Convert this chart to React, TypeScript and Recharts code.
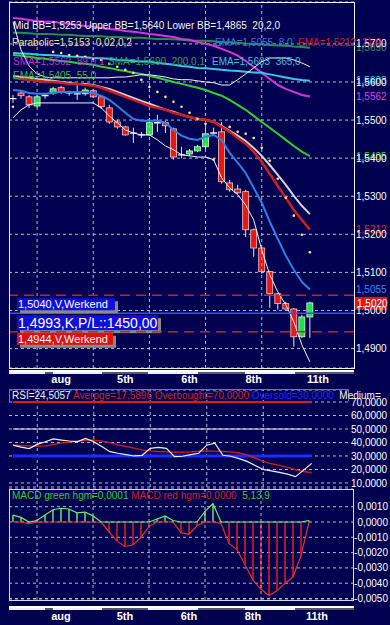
import React from 'react';
import { ComposedChart, Bar, Line, XAxis, YAxis, CartesianGrid, ReferenceLine } from 'recharts';

const opens = [1.5556,1.5571,1.5561,1.5537,1.5564,1.5571,1.5585,1.5571,1.5569,1.5569,1.5577,1.5561,1.5532,1.5495,1.5482,1.5466,1.5461,1.5461,1.5493,1.5493,1.5477,1.5409,1.5411,1.5419,1.5430,1.5466,1.5469,1.5335,1.5319,1.5312,1.5212,1.5164,1.5102,1.5044,1.5018,1.5004,1.4931,1.4983];
const highs = [1.5566,1.5577,1.5566,1.5566,1.5569,1.5587,1.5590,1.5577,1.5592,1.5585,1.5582,1.5564,1.5540,1.5501,1.5485,1.5480,1.5469,1.5506,1.5514,1.5498,1.5480,1.5430,1.5424,1.5435,1.5480,1.5480,1.5495,1.5343,1.5330,1.5317,1.5215,1.5166,1.5104,1.5046,1.5023,1.5007,1.4989,1.5023];
const lows = [1.5545,1.5556,1.5532,1.5532,1.5556,1.5566,1.5569,1.5564,1.5553,1.5564,1.5558,1.5529,1.5490,1.5477,1.5459,1.5440,1.5453,1.5459,1.5469,1.5466,1.5396,1.5400,1.5406,1.5416,1.5424,1.5461,1.5333,1.5312,1.5306,1.5193,1.5141,1.5097,1.5007,1.5002,1.5002,1.4905,1.4928,1.4928];
const closes = [1.5557,1.5564,1.5540,1.5561,1.5565,1.5582,1.5574,1.5572,1.5569,1.5579,1.5561,1.5535,1.5495,1.5482,1.5461,1.5465,1.5461,1.5493,1.5493,1.5485,1.5403,1.5408,1.5419,1.5430,1.5464,1.5466,1.5338,1.5317,1.5309,1.5212,1.5164,1.5102,1.5044,1.5018,1.5004,1.4931,1.4983,1.5020];

const ema8 = [1.5579,1.5577,1.5571,1.5569,1.5569,1.5571,1.5574,1.5574,1.5574,1.5574,1.5571,1.5564,1.5553,1.5537,1.5519,1.5503,1.5498,1.5498,1.5498,1.5493,1.5474,1.5459,1.5451,1.5448,1.5456,1.5461,1.5448,1.5414,1.5388,1.5361,1.5322,1.5283,1.5233,1.5188,1.5144,1.5107,1.5075,1.5055];
const ema21 = [1.5611,1.5608,1.5606,1.5603,1.5600,1.5600,1.5598,1.5595,1.5595,1.5592,1.5590,1.5585,1.5577,1.5569,1.5561,1.5553,1.5545,1.5537,1.5532,1.5527,1.5519,1.5514,1.5508,1.5503,1.5501,1.5495,1.5482,1.5469,1.5453,1.5438,1.5417,1.5390,1.5359,1.5327,1.5296,1.5264,1.5238,1.5212];
const midBB = [1.5616,1.5613,1.5611,1.5608,1.5606,1.5603,1.5600,1.5598,1.5595,1.5595,1.5592,1.5587,1.5582,1.5574,1.5566,1.5558,1.5550,1.5543,1.5535,1.5527,1.5522,1.5514,1.5508,1.5503,1.5501,1.5495,1.5485,1.5472,1.5459,1.5445,1.5427,1.5406,1.5382,1.5356,1.5330,1.5301,1.5275,1.5253];
const upperBB = [1.5758,1.5684,1.5642,1.5621,1.5613,1.5611,1.5611,1.5611,1.5611,1.5611,1.5611,1.5611,1.5611,1.5613,1.5613,1.5616,1.5619,1.5619,1.5616,1.5613,1.5608,1.5606,1.5606,1.5603,1.5600,1.5598,1.5592,1.5592,1.5606,1.5621,1.5637,1.5653,1.5663,1.5663,1.5663,1.5658,1.5650,1.5640];
const lowerBB = [1.5506,1.5527,1.5540,1.5545,1.5545,1.5545,1.5545,1.5545,1.5545,1.5545,1.5545,1.5532,1.5511,1.5493,1.5474,1.5466,1.5461,1.5461,1.5448,1.5432,1.5422,1.5409,1.5406,1.5403,1.5403,1.5396,1.5348,1.5322,1.5304,1.5277,1.5238,1.5159,1.5094,1.5049,1.5015,1.4970,1.4910,1.4865];
const ema55 = [1.5671,1.5669,1.5666,1.5663,1.5661,1.5658,1.5655,1.5653,1.5650,1.5648,1.5645,1.5640,1.5637,1.5632,1.5629,1.5624,1.5621,1.5616,1.5611,1.5606,1.5600,1.5595,1.5590,1.5585,1.5579,1.5571,1.5564,1.5553,1.5540,1.5527,1.5511,1.5495,1.5480,1.5464,1.5448,1.5432,1.5417,1.5405];
const sma89 = [1.5768,1.5766,1.5763,1.5760,1.5758,1.5758,1.5755,1.5753,1.5750,1.5747,1.5745,1.5742,1.5739,1.5737,1.5734,1.5732,1.5729,1.5726,1.5724,1.5721,1.5718,1.5713,1.5711,1.5705,1.5700,1.5695,1.5687,1.5679,1.5669,1.5655,1.5640,1.5624,1.5608,1.5592,1.5582,1.5574,1.5566,1.5562];
const ema365 = [1.5676,1.5675,1.5674,1.5672,1.5671,1.5670,1.5669,1.5667,1.5666,1.5665,1.5663,1.5662,1.5661,1.5658,1.5657,1.5655,1.5654,1.5653,1.5650,1.5648,1.5645,1.5642,1.5640,1.5637,1.5636,1.5634,1.5632,1.5630,1.5629,1.5627,1.5625,1.5624,1.5620,1.5616,1.5612,1.5608,1.5605,1.5603];
const sma200 = [1.5729,1.5729,1.5728,1.5726,1.5726,1.5725,1.5724,1.5724,1.5722,1.5721,1.5721,1.5720,1.5718,1.5718,1.5717,1.5716,1.5716,1.5714,1.5713,1.5713,1.5712,1.5711,1.5709,1.5708,1.5708,1.5707,1.5705,1.5704,1.5703,1.5701,1.5700,1.5699,1.5697,1.5696,1.5695,1.5693,1.5692,1.5690];
const sar = [1.5535,null,null,null,null,1.5679,1.5676,1.5671,1.5669,1.5666,1.5661,1.5658,1.5648,1.5640,1.5632,1.5624,1.5606,1.5587,1.5574,1.5561,1.5548,1.5535,1.5519,1.5503,1.5490,1.5396,null,1.5482,1.5469,1.5464,1.5453,1.5427,1.5393,1.5346,1.5296,1.5249,1.5199,1.5153];

const rsi = [38,36.5,35.5,38.6,40.5,42.6,41.8,41.1,40.6,43,40.6,37,33.2,32,31,30,30.5,35.7,36.4,35.7,29.5,29.8,31,32,38,39.4,30.5,29.8,28,26,23,20,19,17.9,16.5,14.7,19.5,24.5057];
const rsiAvg = [38,37.8,37.5,37.2,37.5,38.5,39.5,40.3,41,41.7,41.8,41,39.8,38.2,37,35.8,34.5,33.8,33.3,33,32.8,32.8,33,33.5,33.7,33.6,33.3,33,32.2,30.7,28.5,26,24.2,23,21.5,19.8,18.5,17.5896];
const macdHist = [0.00045,0.0003,-0.0001,0.0001,0.00045,0.0008,0.0009,0.00085,0.0006,0.00065,0.0004,0.0,-0.00065,-0.00125,-0.0016,-0.0015,-0.001,-0.0003,0.0002,0.0004,0.0001,-0.0007,-0.0008,-0.00025,0.0007,0.0012,-0.0001,-0.0014,-0.0018,-0.0028,-0.0038,-0.0044,-0.0048,-0.0045,-0.004,-0.0036,-0.0022,0.0001];

const dateTicks = [6, 14, 22, 30, 38];
const dateLabels = ['aug', '5th', '6th', '8th', '11th'];
const gridCats = [3, 10, 17, 24, 31];
const priceTicks = [1.49, 1.50, 1.51, 1.52, 1.53, 1.54, 1.55, 1.56, 1.57];
const rsiTicks = [10, 20, 30, 40, 50, 60, 70];
const macdTicks = [0.001, 0, -0.001, -0.002, -0.003, -0.004, -0.005];
const pendingOrders = [
  { price: 1.5040, text: '1,5040,V,Werkend' },
  { price: 1.4944, text: '1,4944,V,Werkend' },
];
const position = { price: 1.4993, text: '1,4993,K,P/L::1450,00' };
const lastPrice = 1.5020;
const valueTags = [
  { v: 1.5690, label: '1,5690', color: '#2e9a4e' },
  { v: 1.5603, label: '1,5603', color: '#3fd0f0' },
  { v: 1.5562, label: '1,5562', color: '#e040e8' },
  { v: 1.5405, label: '1,5405', color: '#3ed23e' },
  { v: 1.5212, label: '1,5212', color: '#e02828' },
  { v: 1.5055, label: '1,5055', color: '#3a8cf0' },
];

const N = closes.length;
const fmt4 = (v: number) => v.toFixed(4).replace('.', ',');
const dateFmt = (v: any) => { const i = dateTicks.indexOf(Number(v)); return i >= 0 ? dateLabels[i] : ''; };

const mainData = Array.from({ length: 43 }, (_, k) => k < N ? ({
  k, open: opens[k], high: highs[k], low: lows[k], close: closes[k],
  ema8: ema8[k], ema21: ema21[k], midBB: midBB[k], upperBB: upperBB[k], lowerBB: lowerBB[k],
  ema55: ema55[k], sma89: sma89[k], ema365: ema365[k], sma200: sma200[k], sar: sar[k],
}) : ({ k }));
const rsiData = Array.from({ length: 42 }, (_, k) => k < N ? ({ k, rsi: rsi[k], avg: rsiAvg[k] }) : ({ k }));
const macdData = Array.from({ length: 43 }, (_, k) => k < N ? ({
  k, h: macdHist[k], g: Math.max(macdHist[k], 0), r: Math.min(macdHist[k], 0),
}) : ({ k }));

const BG = '#000050';
const GRID = '#b8b8d0';
const FONT = '"Liberation Sans", Arial, sans-serif';

const Candle = (props: any) => {
  const { x, y, width, height, payload } = props;
  if (!payload || payload.open == null) return null;
  const top = Math.min(y, y + height);
  const hh = Math.abs(height);
  const ratio = hh / (payload.high - payload.low);
  const py = (p: number) => top + (payload.high - p) * ratio;
  const cx = x + width / 2;
  const bt = py(Math.max(payload.open, payload.close));
  const bb = py(Math.min(payload.open, payload.close));
  const up = payload.close > payload.open;
  const doji = bb - bt < 1.3;
  return (
    <g>
      <line x1={cx} x2={cx} y1={top} y2={top + hh} stroke="#e6e6e6" strokeWidth={1} />
      {doji ? (
        <line x1={cx - 3.5} x2={cx + 3.5} y1={(bt + bb) / 2} y2={(bt + bb) / 2} stroke="#f2f2f2" strokeWidth={1.3} />
      ) : (
        <rect x={cx - 3} y={bt} width={6} height={bb - bt} fill={up ? '#1ee04a' : '#ee1414'} stroke={up ? '#d8ffd8' : '#f6caca'} strokeWidth={0.8} />
      )}
    </g>
  );
};

const HistLine = (props: any) => {
  const { x, y, width, height, payload } = props;
  if (!payload || payload.h == null || height == null || Math.abs(height) < 0.5) return null;
  const color = payload.h >= 0 ? '#5ce65c' : '#e01e1e';
  const cx = x + width / 2;
  const y1 = Math.min(y, y + height);
  const y2 = Math.max(y, y + height);
  return <line x1={cx} x2={cx} y1={y1} y2={y2} stroke={color} strokeWidth={1.5} />;
};

const RightTag = (color: string, text: string) => (props: any) => {
  const vb = props.viewBox || {};
  return (
    <text x={356} y={vb.y} dy="0.35em" fill={color} fontSize={10} fontFamily={FONT}>{text}</text>
  );
};

const LastTag = (props: any) => {
  const vb = props.viewBox || {};
  return (
    <g>
      <rect x={355} y={vb.y - 6} width={32} height={13} fill="#d81818" />
      <text x={357} y={vb.y + 1} dy="0.35em" fill="#ffffff" fontSize={10} fontFamily={FONT}>{fmt4(lastPrice)}</text>
    </g>
  );
};

const OrderBox = (text: string, fill: string, w: number, h: number, fs: number, dyTop: number) => (props: any) => {
  const vb = props.viewBox || {};
  const y0 = vb.y + dyTop;
  return (
    <g>
      <rect x={20} y={y0 + 3} width={w} height={h} fill="#8a8a8a" />
      <rect x={17} y={y0} width={w} height={h} fill={fill} />
      <text x={18} y={y0 + h / 2} dy="0.36em" fill="#ffffff" fontSize={fs} fontFamily={FONT}>{text}</text>
    </g>
  );
};

const MacdTick = (props: any) => {
  const { y, payload } = props;
  return (
    <text x={388} y={y} dy="0.35em" textAnchor="end" fill="#ffffff" fontSize={10} fontFamily={FONT}>
      {fmt4(payload.value)}
    </text>
  );
};

const DateBand = ({ top }: { top: number }) => {
  const dark = [[45, 53], [102, 148], [198, 245], [295, 354]];
  return (
    <div style={{ position: 'absolute', left: 9, top, width: 345, height: 5 }}>
      <div style={{ position: 'absolute', left: 0, top: 0, width: 345, height: 2, background: '#ffffff' }} />
      <div style={{ position: 'absolute', left: 0, top: 2, width: 345, height: 2, background: '#f0f0f0' }} />
      {dark.map(([a, b], i) => (
        <div key={i} style={{ position: 'absolute', left: a - 9, top: 2, width: b - a, height: 2, background: '#555566' }} />
      ))}
    </div>
  );
};

const txt = (left: number, top: number, color: string, s: string, size = 10) => (
  <div style={{ position: 'absolute', left, top, color, fontSize: size, fontFamily: FONT, whiteSpace: 'pre', lineHeight: '12px' }}>{s}</div>
);

export default function App() {
  return (
    <div style={{ position: 'absolute', left: 0, top: 0, width: 390, height: 625, background: BG, overflow: 'hidden', fontFamily: FONT }}>
      {/* Main price chart */}
      <div style={{ position: 'absolute', left: 0, top: 0 }}>
        <ComposedChart width={390} height={392} data={mainData} margin={{ top: 2, right: 0, bottom: 4, left: 9 }} barCategoryGap={0}>
          <CartesianGrid vertical={false} stroke={GRID} strokeDasharray="3 3" strokeWidth={1} />
          <XAxis dataKey="k" type="category" scale="band" height={20} ticks={dateTicks} interval={0}
            tickFormatter={dateFmt} axisLine={false} tickLine={false} tickSize={0} tickMargin={7}
            tick={{ fill: '#ffffff', fontSize: 11, fontWeight: 'bold', fontFamily: FONT }} />
          <YAxis yAxisId={0} orientation="right" width={36} domain={[1.4849, 1.581]} ticks={priceTicks} interval={0}
            tickFormatter={fmt4} axisLine={false} tickLine={false} tickSize={0} tickMargin={2}
            tick={{ fill: '#ffffff', fontSize: 10, fontFamily: FONT }} allowDataOverflow />
          {gridCats.map((c) => (
            <ReferenceLine key={'v' + c} x={c} stroke={GRID} strokeDasharray="3 3" />
          ))}
          <Bar dataKey={(d: any) => (d.open == null ? undefined : [d.low, d.high])} shape={Candle} isAnimationActive={false} />
          <Line dataKey="sma200" stroke="#2a8c4c" strokeWidth={2} dot={false} isAnimationActive={false} />
          <Line dataKey="sma89" stroke="#d838d8" strokeWidth={2} dot={false} isAnimationActive={false} />
          <Line dataKey="ema365" stroke="#38c8ea" strokeWidth={2} dot={false} isAnimationActive={false} />
          <Line dataKey="ema55" stroke="#30d030" strokeWidth={2} dot={false} isAnimationActive={false} />
          <Line dataKey="upperBB" stroke="#f4f4f4" strokeWidth={1} dot={false} isAnimationActive={false} />
          <Line dataKey="lowerBB" stroke="#f4f4f4" strokeWidth={1} dot={false} isAnimationActive={false} />
          <Line dataKey="midBB" stroke="#d4d4dc" strokeWidth={2} dot={false} isAnimationActive={false} />
          <Line dataKey="ema21" stroke="#d01e1e" strokeWidth={2.5} dot={false} isAnimationActive={false} />
          <Line dataKey="ema8" stroke="#2f80e8" strokeWidth={2} dot={false} isAnimationActive={false} />
          <Line dataKey="sar" stroke="none" dot={{ r: 1.3, fill: '#fff070', stroke: 'none' }} isAnimationActive={false} />
          <ReferenceLine y={position.price} stroke="#3050ff" strokeWidth={1.5}
            label={OrderBox(position.text, '#1010d8', 141, 15, 14, 2)} />
          <ReferenceLine y={pendingOrders[0].price} stroke="#c82030" strokeWidth={1.5} strokeDasharray="10 6"
            label={OrderBox(pendingOrders[0].text, '#1010d8', 98, 12, 11, 3)} />
          <ReferenceLine y={pendingOrders[1].price} stroke="#c82030" strokeWidth={1.5} strokeDasharray="10 6"
            label={OrderBox(pendingOrders[1].text, '#e01010', 96, 12, 11, 1)} />
          {valueTags.map((t) => (
            <ReferenceLine key={t.label} y={t.v} stroke="none" label={RightTag(t.color, t.label)} />
          ))}
          <ReferenceLine y={lastPrice} stroke="none" label={LastTag} />
        </ComposedChart>
      </div>
      <div style={{ position: 'absolute', left: 9, top: 2, width: 344, height: 365, border: '1px solid #f0f0f0' }} />
      <DateBand top={370} />

      {/* legend texts main */}
      {txt(13, 20, '#f4f4f4', 'Mid BB=1,5253 Upper BB=1,5640 Lower BB=1,4865  20,2,0')}
      {txt(12, 37, '#e8e090', 'Parabolic=1,5153  0,02,0,2')}
      {txt(215, 37, '#3878d8', 'EMA=1,5055  8,0')}
      {txt(298, 37, '#c82020', 'EMA=1,5212  21,0')}
      {txt(13, 56, '#c038c0', 'SMA=1,5562  89,0,1')}
      {txt(108, 56, '#34a050', 'SMA=1,5690  200,0,1')}
      {txt(212, 56, '#40c0e8', 'EMA=1,5603  365,0')}
      {txt(13, 70, '#40b840', 'EMA=1,5405  55,0')}

      {/* RSI panel */}
      <div style={{ position: 'absolute', left: 0, top: 388 }}>
        <ComposedChart width={390} height={100} data={rsiData} margin={{ top: 2, right: 0, bottom: 1, left: 9 }}>
          <CartesianGrid vertical={false} stroke={GRID} strokeDasharray="3 3" />
          <XAxis dataKey="k" type="category" scale="band" hide />
          <YAxis orientation="right" width={42} domain={[7, 78.9]} ticks={rsiTicks} interval={0} axisLine={false} tickLine={false}
            tickSize={0} tickMargin={3} tickFormatter={(v: number) => v.toFixed(4).replace('.', ',')}
            tick={{ fill: '#ffffff', fontSize: 10, fontFamily: FONT }} />
          {gridCats.map((c) => (
            <ReferenceLine key={'rv' + c} x={c} stroke={GRID} strokeDasharray="3 3" />
          ))}
          <ReferenceLine segment={[{ x: 0, y: 70 }, { x: N - 1, y: 70 }]} stroke="#e01818" strokeWidth={2} />
          <ReferenceLine segment={[{ x: 0, y: 50 }, { x: N - 1, y: 50 }]} stroke="#f0f0f0" strokeWidth={1.2} />
          <ReferenceLine segment={[{ x: 0, y: 30 }, { x: N - 1, y: 30 }]} stroke="#1a2cff" strokeWidth={3} />
          <Line dataKey="avg" stroke="#c81e1e" strokeWidth={1.4} dot={false} isAnimationActive={false} />
          <Line dataKey="rsi" stroke="#f0f0f0" strokeWidth={1.2} dot={false} isAnimationActive={false} />
        </ComposedChart>
      </div>
      <div style={{ position: 'absolute', left: 9, top: 389, width: 338, height: 11, border: '1px solid #777788', borderBottom: 'none' }} />
      <div style={{ position: 'absolute', left: 12, top: 390, fontSize: 10, fontFamily: FONT, whiteSpace: 'pre', lineHeight: '12px' }}>
        <span style={{ color: '#f4f4f4' }}>RSI=24,5057 </span>
        <span style={{ color: '#d02020' }}>Averpge=17,5896 Overbought=70,0000 </span>
        <span style={{ color: '#1a2cff' }}>Oversold=30,0000  </span>
        <span style={{ color: '#f4f4f4' }}>Medium=</span>
      </div>

      {/* MACD panel */}
      <div style={{ position: 'absolute', left: 0, top: 487 }}>
        <ComposedChart width={390} height={137} data={macdData} margin={{ top: 2, right: 0, bottom: 2, left: 9 }} barCategoryGap={0}>
          <CartesianGrid vertical={false} stroke={GRID} strokeDasharray="3 3" />
          <XAxis dataKey="k" type="category" scale="band" height={22} ticks={dateTicks} interval={0}
            tickFormatter={dateFmt} axisLine={false} tickLine={false} tickSize={0} tickMargin={12}
            tick={{ fill: '#ffffff', fontSize: 11, fontWeight: 'bold', fontFamily: FONT }} />
          <YAxis orientation="right" width={37} domain={[-0.005098, 0.002157]} ticks={macdTicks} interval={0}
            axisLine={false} tickLine={false} tick={MacdTick} allowDataOverflow />
          {gridCats.map((c) => (
            <ReferenceLine key={'mv' + c} x={c} stroke={GRID} strokeDasharray="3 3" />
          ))}
          <Bar dataKey="h" shape={HistLine} isAnimationActive={false} />
          <Line dataKey="r" stroke="#e83030" strokeWidth={1.2} dot={false} isAnimationActive={false} />
          <Line dataKey="g" stroke="#6aee6a" strokeWidth={1.2} dot={false} isAnimationActive={false} />
        </ComposedChart>
      </div>
      <div style={{ position: 'absolute', left: 9, top: 489, width: 343, height: 110, border: '1px solid #d8d8e0' }} />
      <DateBand top={606} />
      <div style={{ position: 'absolute', left: 12, top: 490, fontSize: 10, fontFamily: FONT, whiteSpace: 'pre', lineHeight: '12px' }}>
        <span style={{ color: '#3cc83c' }}>MACD green hgm=0,0001 </span>
        <span style={{ color: '#d02020' }}>MACD red hgm=0,0000  </span>
        <span style={{ color: '#3cc83c' }}>5,13,9</span>
      </div>
    </div>
  );
}
